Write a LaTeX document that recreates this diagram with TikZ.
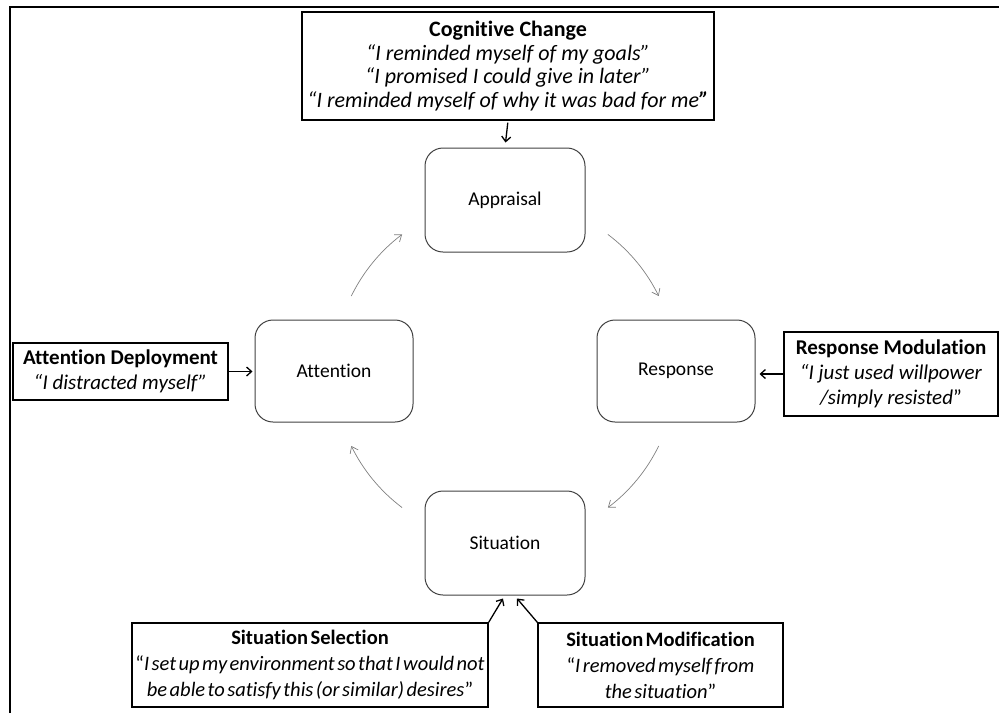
\documentclass[tikz,border=0pt]{standalone}
\usepackage{fontspec}
\setmainfont{Carlito}[Ligatures={CommonOff,TeX}]
\usetikzlibrary{arrows.meta}
\newcommand\tightsp{\spaceskip=0.12em plus 0.05em\relax}
\begin{document}
\begin{tikzpicture}[x=1pt,y=-1pt,
  stage/.style={draw=black!75, line width=1pt, rounded corners=18pt, minimum width=160pt, minimum height=104pt, inner sep=0pt, font=\fontsize{19.5}{23}\selectfont},
  strat/.style={draw=black, line width=1.3pt, inner sep=0pt, align=center},
  blk/.style={line width=1.3pt, -{Straight Barb[length=5pt,width=9pt]}},
  cyc/.style={draw=black!50, line width=0.7pt, -{Straight Barb[length=6pt,width=9pt]}}]
\useasboundingbox (0,0) rectangle (999,713);
\draw[line width=2pt] (10,713) -- (10,7) -- (999,7);

% stages
\node[stage] (app) at (505,200) {Appraisal};
\node[stage, minimum width=158pt, minimum height=102pt] (att) at (334,371) {Attention};
\node[stage, minimum width=158pt, minimum height=102pt] (resp) at (676,371) {Response};
\node[stage] (sit) at (505,543) {Situation};

% strategies
\node[strat, minimum width=412pt, minimum height=108pt, font=\fontsize{22}{23.5}\selectfont] (cog) at (508,66)
  {\textbf{Cognitive Change}\\ \textit{“I reminded myself of my goals”}\\ \textit{“I promised I could give in later”}\\ \textit{“I reminded myself of why it was bad for me\textbf{”}}};
\node[strat, minimum width=215pt, minimum height=57pt, font=\fontsize{21}{25}\selectfont] (ad) at (120.5,371.5)
  {\textbf{Attention Deployment}\\ \textit{“I distracted myself”}};
\node[strat, minimum width=214pt, minimum height=84pt, font=\fontsize{21}{25}\selectfont] (rm) at (891,374)
  {\textbf{Response Modulation}\\ \textit{“I just used willpower}\\ \textit{/simply resisted}”};
\node[strat, minimum width=356pt, minimum height=84pt, font=\fontsize{20.5}{26}\selectfont] (sel) at (310,665)
  {\tightsp\textbf{Situation Selection}\\ \tightsp“\textit{I set up my environment so that I would not}\\ \tightsp\textit{be able to satisfy this (or similar) desires}”};
\node[strat, minimum width=245pt, minimum height=84pt, font=\fontsize{20.5}{26}\selectfont] (mod) at (660.5,665)
  {\tightsp\textbf{Situation Modification}\\ \tightsp“\textit{I removed myself from}\\ \tightsp\textit{the situation}”};

% strategy arrows
\draw[blk, shorten <=2pt, shorten >=5pt] (cog.south) -- (app.north);
\draw[blk, shorten >=2pt] (ad.east) -- (ad.east -| att.west);
\draw[blk, shorten >=4pt] (rm.west) -- (rm.west -| resp.east);
\draw[blk] (sel.north east) -- ([xshift=-2pt,yshift=-3pt]sit.south);
\draw[blk] (mod.north west) -- ([xshift=12pt,yshift=-3pt]sit.south);

% cycle arcs
\coordinate (ctr) at (505,371);
\draw[cyc] ([shift={(-154:171)}]ctr) arc[start angle=-154, end angle=-127, radius=171];
\draw[cyc] ([shift={(-53:171)}]ctr) arc[start angle=-53, end angle=-26, radius=171];
\draw[cyc] ([shift={(26:171)}]ctr) arc[start angle=26, end angle=53, radius=171];
\draw[cyc] ([shift={(127:171)}]ctr) arc[start angle=127, end angle=154, radius=171];
\end{tikzpicture}
\end{document}
